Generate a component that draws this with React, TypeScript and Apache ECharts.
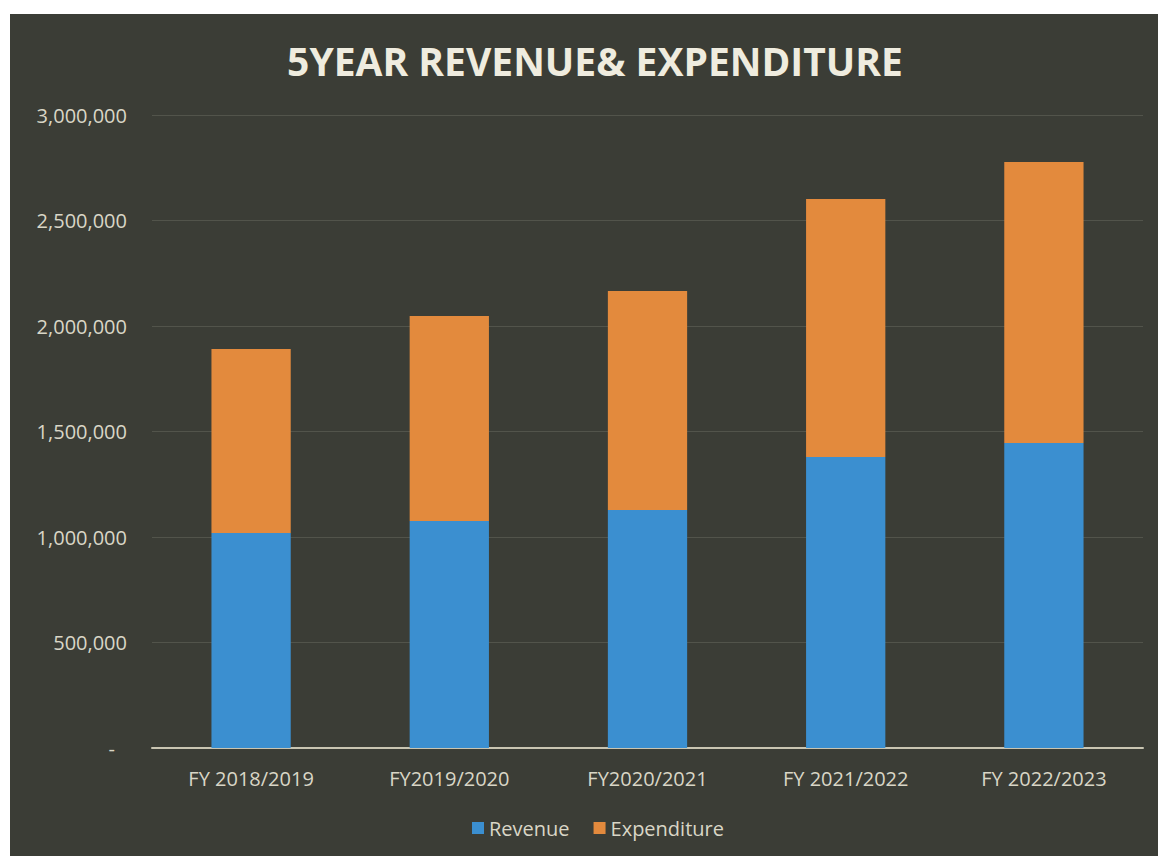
import React, { useEffect, useRef } from "react";
import * as echarts from "echarts";

const categories = ["FY 2018/2019", "FY2019/2020", "FY2020/2021", "FY 2021/2022", "FY 2022/2023"];
const revenue = [1019000, 1076000, 1128000, 1379000, 1445000];
const expenditure = [872000, 971000, 1038000, 1223000, 1332000];
const yTicks = { min: 0, max: 3000000, interval: 500000 };

const BG = "#3b3d36";
const TEXT = "#d9d6c6";
const FONT = "'Open Sans', sans-serif";

export default function App() {
  const ref = useRef<HTMLDivElement>(null);
  useEffect(() => {
    if (!ref.current) return;
    const chart = echarts.init(ref.current, undefined, { renderer: "svg" });
    chart.setOption({
      animation: false,
      backgroundColor: BG,
      textStyle: { fontFamily: FONT },
      title: {
        text: "5YEAR REVENUE& EXPENDITURE",
        left: 580,
        textAlign: "center",
        top: 22,
        textStyle: { color: "#efecdf", fontSize: 39, fontWeight: "bold", fontFamily: FONT },
      },
      legend: {
        data: ["Revenue", "Expenditure"],
        left: 457,
        top: 799,
        itemWidth: 12,
        itemHeight: 12,
        itemGap: 24,
        icon: "rect",
        textStyle: { color: TEXT, fontSize: 20, fontFamily: FONT },
      },
      grid: { left: 142, right: 15, top: 101, bottom: 108, containLabel: false },
      xAxis: {
        type: "category",
        data: categories,
        axisLine: { lineStyle: { color: "#c9c5b2", width: 2 } },
        axisTick: { show: false },
        axisLabel: { color: TEXT, fontSize: 20, margin: 20, fontFamily: FONT },
      },
      yAxis: {
        type: "value",
        min: yTicks.min,
        max: yTicks.max,
        interval: yTicks.interval,
        axisLine: { show: false },
        axisTick: { show: false },
        splitLine: { lineStyle: { color: "#52544b", width: 1 } },
        axisLabel: {
          color: TEXT,
          fontSize: 20,
          margin: 25,
          fontFamily: FONT,
          formatter: (v: number) => (v === 0 ? "{z|-}" : v.toLocaleString("en-US")),
          rich: { z: { color: TEXT, fontSize: 20, padding: [0, 12, 0, 0], fontFamily: FONT } },
        },
      },
      series: [
        {
          name: "Revenue",
          type: "bar",
          stack: "total",
          data: revenue,
          barWidth: "40%",
          itemStyle: { color: "#3b8fd0" },
        },
        {
          name: "Expenditure",
          type: "bar",
          stack: "total",
          data: expenditure,
          barWidth: "40%",
          itemStyle: { color: "#e38a3d" },
        },
      ],
    });
    return () => chart.dispose();
  }, []);
  return (
    <div style={{ position: "fixed", left: 0, top: 0, width: 1158, height: 856, background: "#ffffff" }}>
      <div ref={ref} style={{ position: "absolute", left: 10, top: 14, width: 1148, height: 842 }} />
    </div>
  );
}
